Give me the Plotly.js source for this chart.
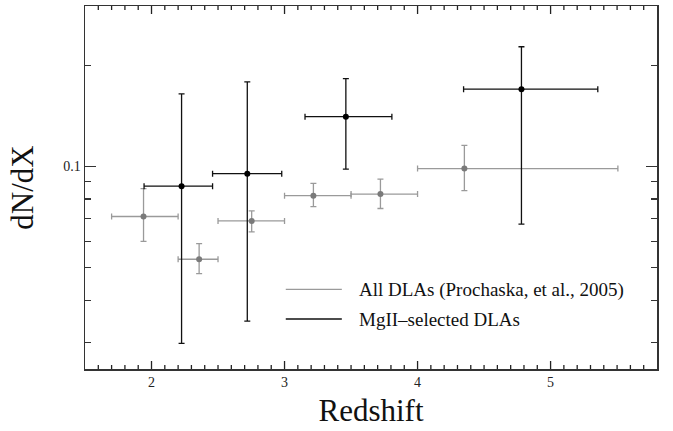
<!DOCTYPE html>
<html>
<head>
<meta charset="utf-8">
<script src="https://cdn.plot.ly/plotly-3.0.1.min.js"></script>
<style>
  html, body { margin: 0; padding: 0; background: #fff; }
  #chart { width: 673px; height: 431px; }
</style>
</head>
<body>
<div id="chart"></div>
<script>
// All DLAs (Prochaska et al., 2005): redshift bins and dN/dX
const allZ       = [1.94, 2.358, 2.753, 3.217, 3.721, 4.352];
const allZLow    = [1.70, 2.20, 2.50, 3.00, 3.50, 4.00];
const allZHigh   = [2.20, 2.50, 3.00, 3.50, 4.00, 5.506];
const allDNdX    = [0.0710, 0.0530, 0.0689, 0.0819, 0.0828, 0.0986];
const allErrUp   = [0.0859, 0.0590, 0.0738, 0.0891, 0.0917, 0.1156];
const allErrDown = [0.0599, 0.0480, 0.0639, 0.0760, 0.0750, 0.0848];

// MgII-selected DLAs
const mgZ        = [2.226, 2.720, 3.461, 4.781];
const mgZLow     = [1.944, 2.459, 3.154, 4.346];
const mgZHigh    = [2.459, 2.979, 3.807, 5.355];
const mgDNdX     = [0.0874, 0.0952, 0.1406, 0.1698];
const mgErrUp    = [0.1644, 0.1784, 0.1825, 0.2270];
const mgErrDown  = [0.0298, 0.0347, 0.0982, 0.0674];

const legendLabels = ['All DLAs (Prochaska, et al., 2005)', 'MgII\u2013selected DLAs'];

const xMajorTicks = [2, 3, 4, 5];
const xMajorText  = ['2', '3', '4', '5'];
const yMajorTicks = [0.1];
const yMajorText  = ['0.1'];
const yMinorTicks = [0.2, 0.09, 0.08, 0.07, 0.06, 0.05, 0.04, 0.03];

// minor redshift ticks every 0.1 across the axis span
const xMinorTicks = [];
for (let k = 16; k <= 57; k++) { if (k % 10 !== 0) xMinorTicks.push(k / 10); }

const serif = 'Liberation Serif, Times New Roman, serif';

function diffs(a, b) { return a.map((v, i) => Math.abs(v - b[i])); }

function errTrace(x, xl, xh, y, yl, yh, barColor, markColor) {
  return {
    type: 'scatter', mode: 'markers', x: x, y: y, showlegend: false, hoverinfo: 'skip',
    marker: { color: markColor, size: 6 },
    error_x: { type: 'data', symmetric: false, array: diffs(xh, x), arrayminus: diffs(x, xl),
               color: barColor, thickness: 1.3, width: 3 },
    error_y: { type: 'data', symmetric: false, array: diffs(yh, y), arrayminus: diffs(y, yl),
               color: barColor, thickness: 1.3, width: 3 }
  };
}

const traces = [
  errTrace(allZ, allZLow, allZHigh, allDNdX, allErrDown, allErrUp, '#9a9a9a', '#7a7a7a'),
  errTrace(mgZ, mgZLow, mgZHigh, mgDNdX, mgErrDown, mgErrUp, '#111111', '#000000')
];

// Hand-placed legend: sample lines and labels in paper space
const legendColors = ['#9a9a9a', '#111111'];
const legendY = [0.2196, 0.1377];
const shapes = legendColors.map((c, i) => ({
  type: 'line', xref: 'paper', yref: 'paper',
  x0: 0.351, x1: 0.449, y0: legendY[i], y1: legendY[i],
  line: { color: c, width: 1.3 }
}));

// Inward redshift ticks along the bottom and top frame edges
const plotHeightPx = 431 - 6 - 62;
function addXTicks(vals, lenPx) {
  const f = lenPx / plotHeightPx;
  vals.forEach(v => {
    shapes.push({ type: 'line', xref: 'x', yref: 'paper', x0: v, x1: v, y0: 0, y1: f,
                  line: { color: '#222', width: 1.3 } });
    shapes.push({ type: 'line', xref: 'x', yref: 'paper', x0: v, x1: v, y0: 1, y1: 1 - f,
                  line: { color: '#222', width: 1.3 } });
  });
}
addXTicks(xMajorTicks, 8);
addXTicks(xMinorTicks, 4);

const annotations = legendLabels.map((t, i) => ({
  xref: 'paper', yref: 'paper', x: 0.476, y: legendY[i] - 0.002,
  xanchor: 'left', yanchor: 'middle', showarrow: false, text: t,
  font: { family: serif, size: 19, color: '#111' }
}));

const layout = {
  width: 673, height: 431,
  margin: { l: 85, r: 16, t: 6, b: 62 },
  showlegend: false,
  xaxis: {
    range: [1.5, 5.8],
    showline: true, linecolor: '#333', linewidth: 1.5, mirror: true,
    ticks: '', showgrid: false, zeroline: false,
    tickmode: 'array', tickvals: xMajorTicks, ticktext: xMajorText,
    tickfont: { family: serif, size: 14, color: '#222' },
    title: { text: 'Redshift', font: { family: serif, size: 31, color: '#111' }, standoff: 10 }
  },
  yaxis: {
    type: 'log', range: [Math.log10(0.025), Math.log10(0.3)],
    showline: true, linecolor: '#333', linewidth: 1.5, mirror: 'allticks',
    ticks: 'inside', tickcolor: '#333', tickwidth: 1.2, ticklen: 11,
    showgrid: false, zeroline: false,
    tickmode: 'array', tickvals: yMajorTicks, ticktext: yMajorText,
    tickfont: { family: serif, size: 14, color: '#222' },
    minor: { tickmode: 'array', tickvals: yMinorTicks, ticklen: 6, ticks: 'inside', tickcolor: '#333', tickwidth: 1.2 },
    title: { text: 'dN/dX', font: { family: serif, size: 31, color: '#111' }, standoff: 20 }
  },
  shapes: shapes,
  annotations: annotations
};

Plotly.newPlot('chart', traces, layout, { displayModeBar: false, staticPlot: true });
</script>
</body>
</html>
